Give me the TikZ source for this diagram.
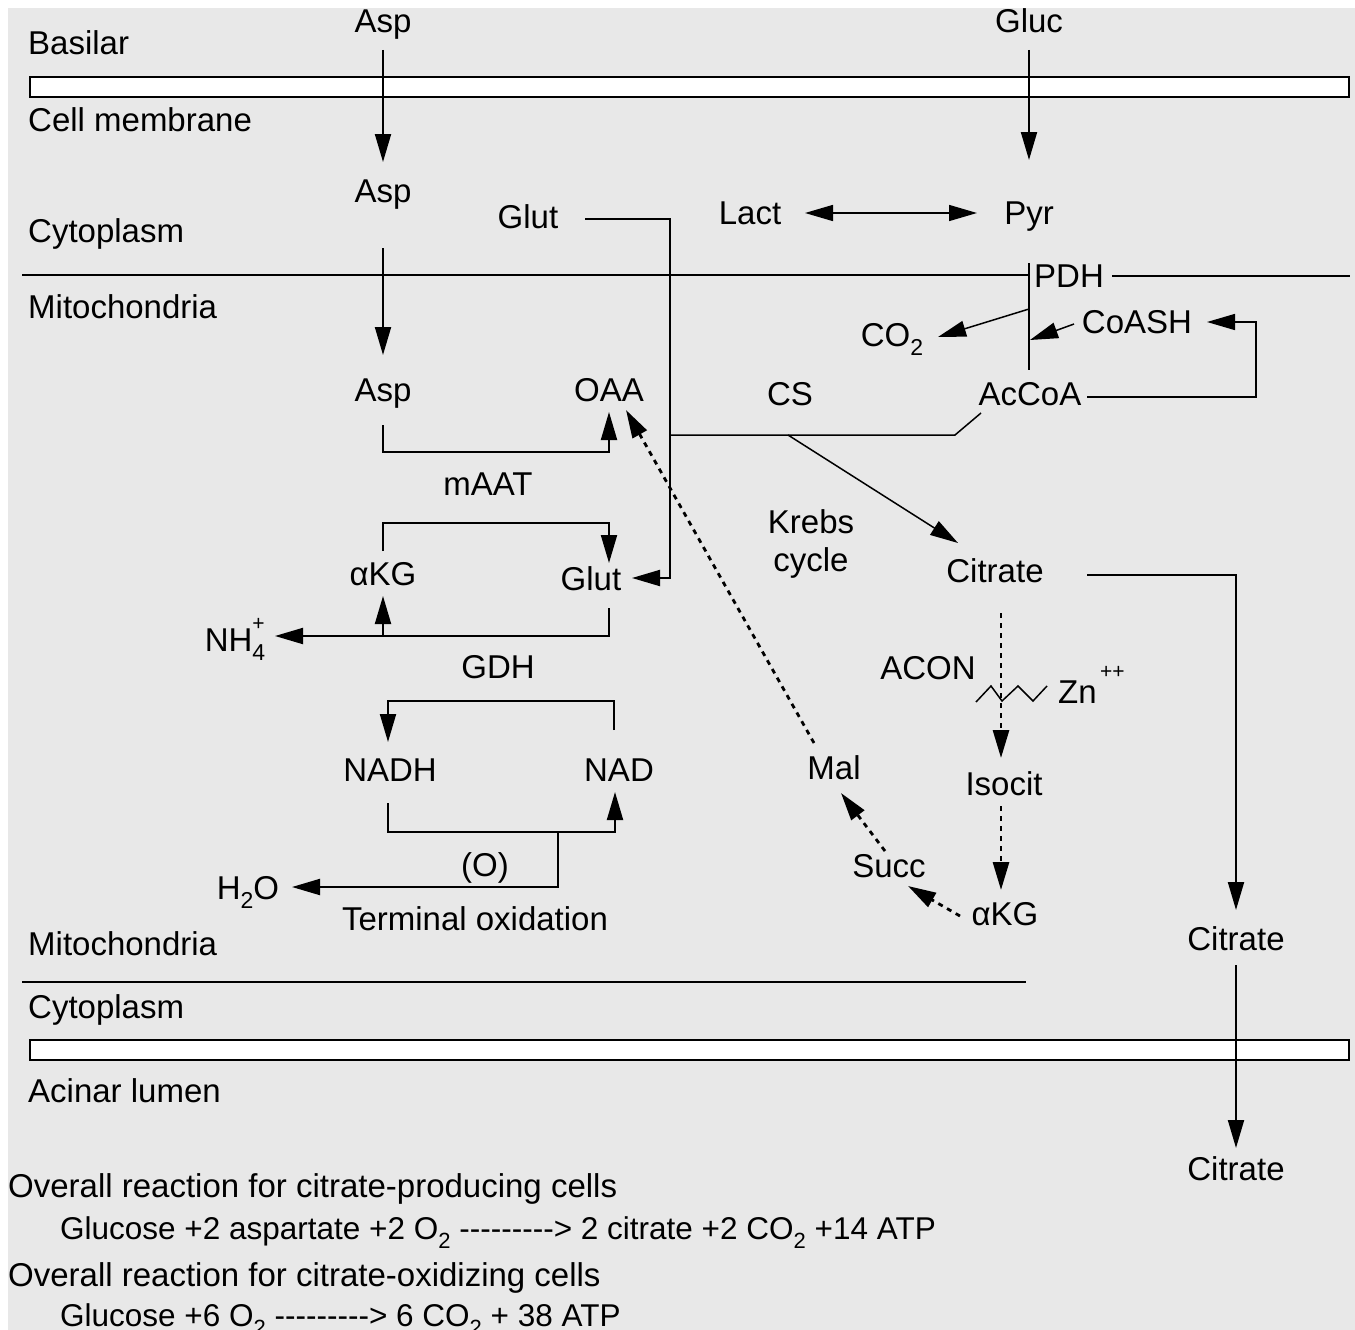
\documentclass[tikz,border=0pt]{standalone}
\usepackage{fontspec}
\setmainfont{Liberation Sans}
\usetikzlibrary{arrows.meta,calc}
\definecolor{bgc}{RGB}{232,232,232}
\newcommand\sbx[1]{\raisebox{-0.28em}{\fontsize{23}{23}\selectfont #1}}
\newcommand\rsb[1]{\raisebox{-0.3em}{\fontsize{22}{22}\selectfont #1}}
\newcommand\dashline{-{}-{}-{}-{}-{}-{}-{}-{}-{}>}
\begin{document}
\begin{tikzpicture}[x=1pt,y=-1pt,
  lbl/.style={inner sep=0pt, text height=23pt, text depth=7pt, font=\fontsize{33}{38}\selectfont},
  lft/.style={lbl, anchor=west},
  rxn/.style={lft, font=\fontsize{31.5}{36}\selectfont},
  ln/.style={line width=2pt},
  thn/.style={line width=1.5pt},
  arr/.style={ln, -{Triangle[length=28pt,width=16pt]}},
  thinarr/.style={thn, -{Triangle[length=28pt,width=16pt]}},
  dotarr/.style={line width=2.8pt, dash pattern=on 5pt off 5pt, -{Triangle[length=28pt,width=16pt,sep=0pt]}},
  membrane/.style={draw=black, line width=2.2pt, fill=white}]
\useasboundingbox (0,0) rectangle (1355,1330);
\clip (0,0) rectangle (1355,1330);
\fill[white] (0,0) rectangle (1355,1330);
\fill[bgc] (8,8) rectangle (1355,1330);

% membranes and compartment lines
\draw[membrane] (30,77) rectangle (1349,97);
\draw[membrane] (30,1040) rectangle (1349,1060);
\draw[ln] (22,275) -- (1029,275);
\draw[thn] (1112,276) -- (1350,276);
\draw[ln] (22,982) -- (1026,982);

% region labels
\node[lft] (basilar) at (28,47) {Basilar};
\node[lft] (cellmem) at (28,123) {Cell membrane};
\node[lft] (cyto1) at (28,234) {Cytoplasm};
\node[lft] (mito1) at (28,310) {Mitochondria};
\node[lft] (mito2) at (28,947) {Mitochondria};
\node[lft] (cyto2) at (28,1010) {Cytoplasm};
\node[lft] (lumen) at (28,1094) {Acinar lumen};

% metabolites
\node[lbl] (asp1) at (383,25) {Asp};
\node[lbl] (gluc) at (1029,25) {Gluc};
\node[lbl] (asp2) at (383,194) {Asp};
\node[lbl] (glut1) at (528,220) {Glut};
\node[lbl] (lact) at (750,216) {Lact};
\node[lbl] (pyr) at (1029,216) {Pyr};
\node[lbl] (pdh) at (1069,279) {PDH};
\node[lbl] (coash) at (1137,325) {CoASH};
\node[lbl] (co2) at (892,338) {CO\sbx{2}};
\node[lbl] (asp3) at (383,393) {Asp};
\node[lbl] (oaa) at (609,393) {OAA};
\node[lbl] (cs) at (790,397) {CS};
\node[lbl] (accoa) at (1030,397) {AcCoA};
\node[lbl] (maat) at (488,487) {mAAT};
\node[lbl] (krebs) at (811,525) {Krebs};
\node[lbl] (cycle) at (811,563) {cycle};
\node[lbl] (citrate1) at (995,574) {Citrate};
\node[lbl] (akg1) at (383,577) {αKG};
\node[lbl] (glut2) at (591,582) {Glut};
\node[lbl] (nh4) at (235,643) {NH\rlap{\raisebox{0.62em}{\fontsize{21}{21}\selectfont +}}\raisebox{-0.3em}{\fontsize{23}{23}\selectfont 4}};
\node[lbl] (gdh) at (498,670) {GDH};
\node[lbl] (acon) at (928,671) {ACON};
\node[lft] (zn) at (1058,695) {Zn\raisebox{0.75em}{\fontsize{21}{21}\selectfont\,++}};
\node[lbl] (nadh) at (390,773) {NADH};
\node[lbl] (nad) at (619,773) {NAD};
\node[lbl] (mal) at (834,771) {Mal};
\node[lbl] (isocit) at (1004,787) {Isocit};
\node[lbl] (succ) at (889,869) {Succ};
\node[lbl] (ox) at (485,868) {(O)};
\node[lbl] (h2o) at (248,891) {H\sbx{2}O};
\node[lbl] (akg2) at (1005,917) {αKG};
\node[lbl] (termox) at (475,922) {Terminal oxidation};
\node[lbl] (citrate2) at (1236,942) {Citrate};
\node[lbl] (citrate3) at (1236,1172) {Citrate};

% overall reactions
\node[lft] (ov1) at (8,1189) {Overall reaction for citrate-producing cells};
\node[rxn] (rx1) at (60,1231) {Glucose +2 aspartate +2 O\rsb{2} \dashline{} 2 citrate +2 CO\rsb{2} +14 ATP};
\node[lft] (ov2) at (8,1278) {Overall reaction for citrate-oxidizing cells};
\node[rxn] (rx2) at (60,1318) {Glucose +6 O\rsb{2} \dashline{} 6 CO\rsb{2} + 38 ATP};

% junction coordinates
\coordinate (pdhtop) at (1029,263);
\coordinate (pdhbot) at (1029,370);
\coordinate (pdhco2) at (1029,309);
\coordinate (gdhj) at (383,636);
\coordinate (oxj) at (558,832);
\coordinate (csj) at (788,435);
\coordinate (accj) at (955,435);
\coordinate (glutv) at (670,435);

% cytoplasm transport
\draw[arr] ($(asp1)+(0,25)$) -- ($(asp2)+(0,-32)$);
\draw[arr] ($(gluc)+(0,25)$) -- ($(pyr)+(0,-56)$);
\draw[thn, {Triangle[length=28pt,width=16pt]}-{Triangle[length=28pt,width=16pt]}] ($(lact)+(55,-3)$) -- ($(pyr)+(-52,-3)$);
\draw[arr] ($(asp2)+(0,54)$) -- ($(asp3)+(0,-38)$);
\draw[arr] ($(glut1)+(57,-1)$) -- ++(85,0) |- ($(glut2)+(41,-4)$);

% PDH
\draw[thn] (pdhtop) -- (pdhbot);
\draw[thinarr] (pdhco2) -- ($(co2)+(46,-1)$);
\draw[thinarr] ($(coash)+(-63,-1)$) -- (1030,340);
\draw[thinarr] ($(accoa)+(57,0)$) -| ($(coash)+(119,-3)$) -- ($(coash)+(70,-3)$);
\draw[thn] ($(accoa)+(-49,16)$) -- (accj) -- (glutv);
\draw[thinarr] (csj) -- ($(citrate1)+(-37,-31)$);

% mAAT
\draw[arr] ($(asp3)+(0,32)$) |- ($(oaa)+(0,59)$) -- ($(oaa)+(0,19)$);
% aKG -> Glut
\draw[arr] ($(akg1)+(0,-26)$) |- ($(glut2)+(18,-59)$) -- ($(glut2)+(18,-19)$);
% GDH
\draw[arr] ($(glut2)+(18,26)$) |- ($(nh4)+(40,-7)$);
\draw[arr] (gdhj) -- ($(akg1)+(0,19)$);
% NAD / NADH
\draw[arr] ($(nad)+(-5,-43)$) |- ($(nadh)+(-2,-72)$) -- ($(nadh)+(-2,-31)$);
\draw[arr] ($(nadh)+(-2,30)$) |- ($(nad)+(-4,59)$) -- ($(nad)+(-4,19)$);
\draw[arr] (oxj) |- ($(h2o)+(44,-4)$);

% citrate export
\draw[arr] ($(citrate1)+(92,1)$) -| ($(citrate2)+(0,-32)$);
\draw[arr] ($(citrate2)+(0,23)$) -- ($(citrate3)+(0,-24)$);

% Krebs cycle (dotted)
\draw[dotarr] ($(citrate1)+(6,39)$) -- ($(isocit)+(-3,-29)$);
\draw[dotarr] ($(isocit)+(-3,19)$) -- ($(akg2)+(-4,-27)$);
\draw[dotarr] ($(akg2)+(-45,-1)$) -- ($(succ)+(19,17)$);
\draw[dotarr] ($(succ)+(-4,-18)$) -- ($(mal)+(7,22)$);
\draw[dotarr] ($(mal)+(-20,-28)$) -- ($(oaa)+(17,17)$);

% zinc zigzag
\draw[thn] (976,702) -- (991,686) -- (1002,701) -- (1018,686) -- (1033,701) -- (1047,686);
\end{tikzpicture}
\end{document}
